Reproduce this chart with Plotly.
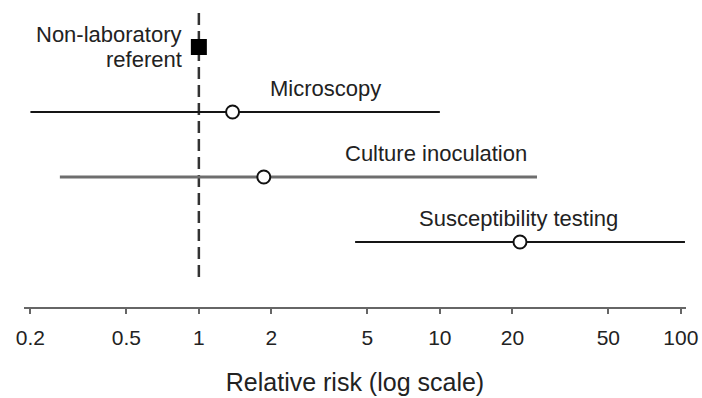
import math
import plotly.graph_objects as go

categories = ["Non-laboratory referent", "Microscopy", "Culture inoculation", "Susceptibility testing"]
rr = [1.0, 1.38, 1.86, 21.5]
ci_low = [None, 0.2, 0.265, 4.45]
ci_high = [None, 10.0, 25.3, 104.0]
row_pos = [4, 3, 2, 1]
tick_vals = [0.2, 0.5, 1, 2, 5, 10, 20, 50, 100]
tick_text = ["0.2", "0.5", "1", "2", "5", "10", "20", "50", "100"]
label_x = [None, 3.35, 9.6, 21.1]
line_colors = ["#000000", "#151515", "#6e6e6e", "#151515"]
line_widths = [0, 2, 3, 2]

FONT = "Liberation Sans, Arial, Helvetica, sans-serif"

fig = go.Figure()

# reference dashed line at RR = 1
fig.add_trace(go.Scatter(x=[1, 1], y=[0.46, 4.54], mode="lines",
                         line=dict(color="#333", width=2.5, dash="12px,6px"),
                         showlegend=False, hoverinfo="skip"))

for i in range(1, 4):
    fig.add_trace(go.Scatter(x=[ci_low[i], ci_high[i]], y=[row_pos[i], row_pos[i]],
                             mode="lines", line=dict(color=line_colors[i], width=line_widths[i]),
                             showlegend=False))

fig.add_trace(go.Scatter(x=rr[1:], y=row_pos[1:], mode="markers",
                         marker=dict(symbol="circle", size=13, color="white",
                                     line=dict(color="#111", width=2)),
                         showlegend=False, cliponaxis=False))
fig.add_trace(go.Scatter(x=[rr[0]], y=[row_pos[0]], mode="markers",
                         marker=dict(symbol="square", size=16, color="black"),
                         showlegend=False, cliponaxis=False))

font_txt = dict(family=FONT, size=22, color="#222")
fig.add_annotation(x=0, y=row_pos[0], xref="x", yref="y", text="Non-laboratory",
                   showarrow=False, xanchor="right", yanchor="middle", xshift=-15, yshift=13,
                   font=font_txt)
fig.add_annotation(x=0, y=row_pos[0], xref="x", yref="y", text="referent",
                   showarrow=False, xanchor="right", yanchor="middle", xshift=-15, yshift=-12,
                   font=font_txt)
for i in range(1, 4):
    fig.add_annotation(x=math.log10(label_x[i]), y=row_pos[i], xref="x", yref="y",
                       text=categories[i], showarrow=False, yshift=24,
                       xanchor="center", yanchor="middle", font=font_txt)

fig.update_layout(
    width=702, height=398,
    margin=dict(l=24, r=16, t=0, b=91),
    plot_bgcolor="white", paper_bgcolor="white",
    font=dict(family=FONT, color="#222"),
    xaxis=dict(type="log", range=[-0.7256, 2.0214], tickvals=tick_vals, ticktext=tick_text,
               showgrid=False, zeroline=False, showline=True, linecolor="#666", linewidth=2,
               ticks="outside", ticklen=5, tickwidth=2, tickcolor="#666",
               ticklabelstandoff=6,
               tickfont=dict(family=FONT, size=21, color="#222"),
               title=dict(text="Relative risk (log scale)",
                          font=dict(family=FONT, size=25, color="#222"), standoff=25)),
    yaxis=dict(range=[0, 4.723], visible=False, showgrid=False, zeroline=False),
)

fig.write_html("out.html", config={"displayModeBar": False},
               post_script="document.body.style.margin='0px';")
